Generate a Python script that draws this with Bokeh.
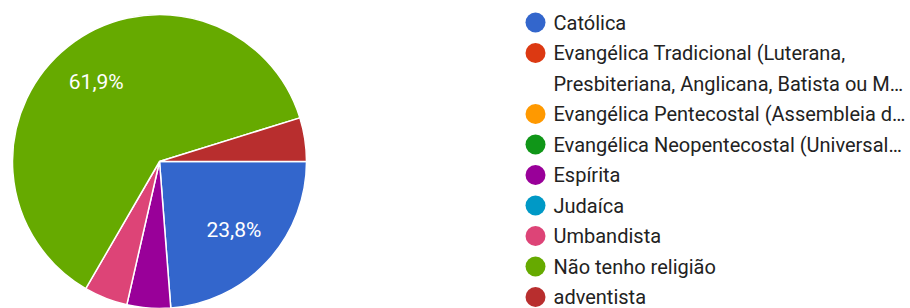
import math
from bokeh.plotting import figure
from bokeh.models import Range1d, ColumnDataSource
from bokeh.core.properties import value
from bokeh.embed import file_html
from bokeh.resources import INLINE

# ---- data ----
categories = [
    "Católica",
    "Evangélica Tradicional (Luterana, Presbiteriana, Anglicana, Batista ou Metodista)",
    "Evangélica Pentecostal (Assembleia de Deus)",
    "Evangélica Neopentecostal (Universal)",
    "Espírita",
    "Judaíca",
    "Umbandista",
    "Não tenho religião",
    "adventista",
]
legend_lines = [
    ["Católica"],
    ["Evangélica Tradicional (Luterana,", "Presbiteriana, Anglicana, Batista ou M…"],
    ["Evangélica Pentecostal (Assembleia d…"],
    ["Evangélica Neopentecostal (Universal…"],
    ["Espírita"],
    ["Judaíca"],
    ["Umbandista"],
    ["Não tenho religião"],
    ["adventista"],
]
percent = [23.8, 0.0, 0.0, 0.0, 4.8, 0.0, 4.8, 61.9, 4.8]
colors = ["#3366cc", "#dc3912", "#ff9900", "#109618", "#990099",
          "#0099c6", "#dd4477", "#66aa00", "#b82e2e"]

# ---- layout (canvas pixel coordinates) ----
W, H = 910, 308
cx, cy_page, R = 159, 161, 147

def py(y_page):
    # convert screen-y (down) to data-y (up)
    return H - y_page

p = figure(width=W, height=H, output_backend="svg", toolbar_location=None,
           x_range=Range1d(0, W), y_range=Range1d(0, H),
           min_border=0, outline_line_color=None)
p.axis.visible = False
p.grid.visible = False
p.background_fill_color = "white"
p.border_fill_color = "white"

total = sum(percent)
starts, ends, wcol, lx, ly, labels = [], [], [], [], [], []
cum = 0.0
for v, c in zip(percent, colors):
    a0 = -cum / total * 2 * math.pi
    cum += v
    a1 = -cum / total * 2 * math.pi
    if v <= 0:
        continue
    starts.append(a0)
    ends.append(a1)
    wcol.append(c)
    mid = (a0 + a1) / 2
    if v > 10:
        lx.append(cx + 0.69 * R * math.cos(mid))
        ly.append(py(cy_page) + 0.69 * R * math.sin(mid))
        labels.append(("%.1f%%" % v).replace(".", ","))

src = ColumnDataSource(dict(start=starts, end=ends, color=wcol))
p.wedge(x=cx, y=py(cy_page), radius=R, start_angle="start", end_angle="end",
        direction="clock", fill_color="color", line_color="white",
        line_width=1.5, source=src)

p.text(x=lx, y=ly, text=labels, text_color="white",
       text_font=value("Roboto"), text_font_size="21px",
       text_align="center", text_baseline="middle")

# legend
dot_x, text_x = 535, 553
row0, step = 22, 30.5
line_idx = 0
dx, dy, dc, tx, ty, tt = [], [], [], [], [], []
for lines, c in zip(legend_lines, colors):
    dx.append(dot_x)
    dy.append(py(row0 + line_idx * step))
    dc.append(c)
    for ln in lines:
        tx.append(text_x)
        ty.append(py(row0 + line_idx * step))
        tt.append(ln)
        line_idx += 1

p.scatter(x=dx, y=dy, size=20, marker="circle", fill_color=dc, line_color=None)
p.text(x=tx, y=ty, text=tt, text_color="#222222",
       text_font=value("Roboto"), text_font_size="20px",
       text_align="left", text_baseline="middle")

open("out.html", "w").write(file_html(p, INLINE))
